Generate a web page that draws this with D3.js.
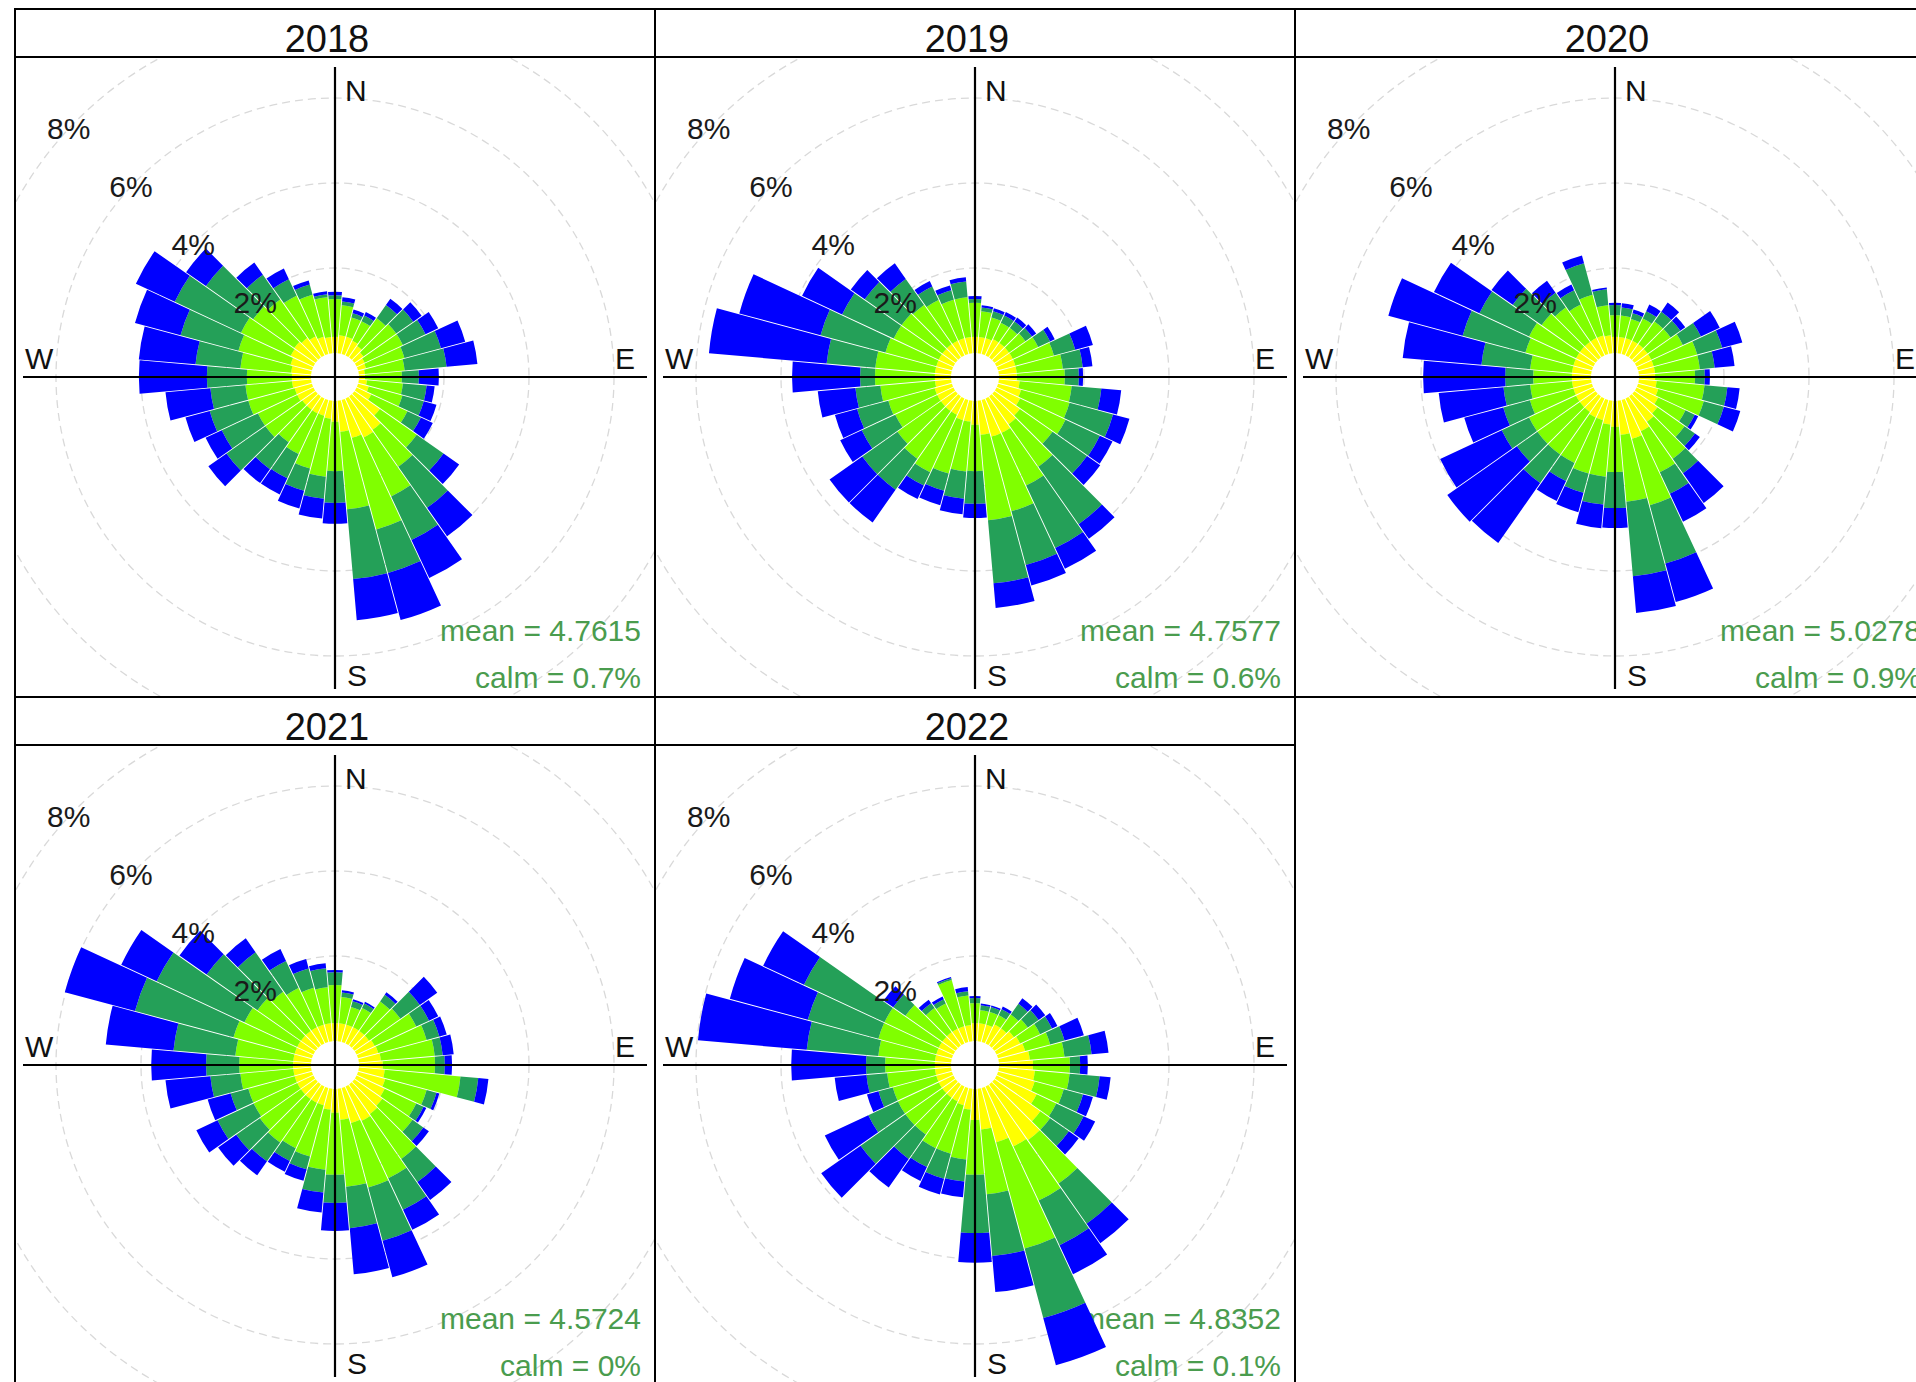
<!DOCTYPE html>
<html>
<head>
<meta charset="utf-8">
<script src="https://cdn.jsdelivr.net/npm/d3@7"></script>
<style>
  html, body { margin: 0; padding: 0; background: #ffffff; }
  svg { display: block; font-family: "Liberation Sans", Arial, sans-serif; }
</style>
</head>
<body>
<svg id="chart" width="1916" height="1382"></svg>
<script>
// ---- data -------------------------------------------------------------
// wind direction sectors (degrees, centre of each 10-degree sector)
const directions = [0, 10, 20, 30, 40, 50, 60, 70, 80, 90,
                    100, 110, 120, 130, 140, 150, 160, 170, 180, 190,
                    200, 210, 220, 230, 240, 250, 260, 270, 280, 290,
                    300, 310, 320, 330, 340, 350];

const years = ["2018", "2019", "2020", "2021", "2022"];
const meanSpeed = ["4.7615", "4.7577", "5.0278", "4.5724", "4.8352"];
const calmPct = ["0.7", "0.6", "0.9", "0", "0.1"];
const ringPct = [2, 4, 6, 8];
const ringLabels = ["2%", "4%", "6%", "8%"];
const speedBands = ["b1", "b2", "b3", "b4"];   // lowest to highest wind speed
const bandColors = ["#ffff00", "#80ff00", "#24a058", "#0000ff"];

// frequency (% of hours) per direction sector, one array per speed band
const f2018_b1 = [0.38,0.42,0.42,0.38,0.33,0.26,0.21,0.19,0.14,0.14, 0.19,0.26,0.38,0.73,0.96,1.01,0.92,0.73,0.49,0.42, 0.38,0.38,0.38,0.38,0.42,0.42,0.45,0.45,0.47,0.52, 0.59,0.61,0.56,0.49,0.42,0.38];
const f2018_b2 = [0.89,0.71,0.47,0.51,0.80,0.94,0.99,0.94,0.94,0.87, 0.85,0.82,0.94,1.06,1.06,1.53,2.23,1.83,1.16,1.37, 1.29,1.06,0.94,1.06,1.02,1.13,1.10,1.06,1.20,1.27, 1.29,1.18,1.11,1.06,1.02,0.94];
const f2018_b3 = [0.09,0.09,0.10,0.15,0.38,0.49,0.59,0.89,0.99,0.40, 0.56,0.52,0.35,0.77,1.18,1.13,1.06,1.65,0.75,0.52, 0.54,0.63,0.77,1.12,0.94,0.94,0.83,0.94,1.06,1.41, 1.72,1.36,0.71,0.43,0.25,0.07];
const f2018_b4 = [0.08,0.10,0.09,0.09,0.18,0.24,0.33,0.59,0.73,0.47, 0.19,0.31,0.31,0.45,0.82,0.99,1.15,0.97,0.49,0.47, 0.43,0.42,0.40,0.52,0.42,0.59,1.06,1.60,1.34,1.11, 1.01,0.57,0.35,0.28,0.10,0.07];

const f2019_b1 = [0.38,0.38,0.38,0.42,0.42,0.42,0.42,0.42,0.42,0.42, 0.49,0.56,0.61,0.73,0.80,0.89,0.89,0.80,0.56,0.49, 0.49,0.42,0.42,0.42,0.42,0.42,0.38,0.38,0.38,0.38, 0.38,0.38,0.38,0.38,0.38,0.38];
const f2019_b2 = [0.80,0.61,0.51,0.43,0.43,0.47,0.66,0.94,1.09,1.13, 1.23,1.18,1.18,0.94,1.22,1.37,1.82,2.02,1.09,1.18, 1.30,1.49,1.37,1.25,1.09,1.13,1.29,1.41,1.41,1.24, 1.17,1.17,1.13,1.06,0.94,0.94];
const f2019_b3 = [0.09,0.09,0.15,0.19,0.19,0.19,0.31,0.52,0.47,0.33, 0.70,1.06,0.89,0.99,1.65,1.62,1.31,1.49,0.77,0.64, 0.42,0.35,0.89,1.01,0.87,0.76,0.59,0.35,1.15,1.58, 1.34,1.06,0.75,0.35,0.23,0.37];
const f2019_b4 = [0.07,0.05,0.07,0.09,0.11,0.12,0.12,0.43,0.23,0.10, 0.47,0.40,0.33,0.38,0.42,0.54,0.50,0.58,0.33,0.37, 0.35,0.35,0.94,0.94,0.56,0.54,0.89,1.60,2.78,1.98, 1.04,0.40,0.45,0.14,0.12,0.10];

const f2020_b1 = [0.38,0.38,0.38,0.38,0.38,0.38,0.38,0.38,0.38,0.38, 0.42,0.49,0.56,0.66,0.73,0.85,0.94,0.80,0.61,0.56, 0.49,0.49,0.45,0.45,0.45,0.45,0.45,0.45,0.45,0.45, 0.45,0.45,0.45,0.45,0.45,0.42];
const f2020_b2 = [0.51,0.51,0.47,0.58,0.66,0.66,0.82,1.06,1.06,0.94, 1.13,1.11,0.71,0.78,1.06,1.06,1.62,1.58,1.06,1.23, 1.30,1.18,1.22,1.22,1.22,1.06,0.99,0.91,0.99,1.17, 1.22,1.10,0.99,0.87,0.99,0.71];
const f2020_b3 = [0.24,0.19,0.14,0.19,0.28,0.28,0.47,0.61,0.35,0.23, 0.54,0.49,0.24,0.30,0.42,0.56,1.42,1.76,0.85,0.66, 0.47,0.47,0.82,0.59,0.71,0.65,0.63,0.66,1.15,1.53, 1.29,0.83,0.42,0.37,0.77,0.38];
const f2020_b4 = [0.05,0.10,0.09,0.17,0.26,0.14,0.49,0.49,0.47,0.12, 0.29,0.40,0.09,0.14,0.85,0.73,0.94,0.87,0.47,0.56, 0.47,0.52,1.72,2.00,1.60,0.95,1.53,1.93,1.86,1.81, 1.18,0.61,0.35,0.15,0.19,0.04];

const f2021_b1 = [0.42,0.42,0.42,0.42,0.42,0.42,0.47,0.49,0.52,0.56, 0.61,0.66,0.73,0.80,0.85,0.89,0.85,0.73,0.56,0.49, 0.42,0.42,0.42,0.42,0.42,0.42,0.42,0.42,0.42,0.42, 0.42,0.42,0.42,0.42,0.42,0.42];
const f2021_b2 = [0.90,0.62,0.43,0.50,0.85,0.90,1.08,1.18,1.27,1.23, 1.79,1.01,0.82,0.87,1.29,1.49,1.57,1.58,1.46,1.42, 1.25,1.18,1.25,1.18,1.13,1.13,1.25,1.27,1.37,1.49, 1.37,1.25,1.13,1.02,0.90,0.85];
const f2021_b3 = [0.30,0.11,0.14,0.12,0.19,0.56,0.33,0.31,0.19,0.23, 0.42,0.24,0.19,0.31,0.66,0.82,1.30,0.98,0.66,0.54, 0.31,0.33,0.54,0.68,0.94,0.43,0.71,0.78,1.46,2.40, 2.28,1.46,1.13,0.70,0.47,0.45];
const f2021_b4 = [0.05,0.05,0.05,0.04,0.07,0.50,0.24,0.18,0.26,0.17, 0.24,0.07,0.07,0.16,0.52,0.52,0.89,1.09,0.66,0.47, 0.28,0.28,0.40,0.52,0.55,0.56,1.06,1.29,1.60,1.71, 0.92,0.78,0.40,0.31,0.23,0.12];

const f2022_b1 = [0.42,0.42,0.42,0.49,0.49,0.56,0.61,0.66,0.73,0.80, 0.85,0.89,1.04,1.32,1.60,1.55,1.32,0.96,0.73,0.49, 0.42,0.38,0.38,0.38,0.38,0.38,0.38,0.38,0.38,0.38, 0.38,0.38,0.38,0.38,0.38,0.38];
const f2022_b2 = [0.47,0.31,0.31,0.24,0.40,0.40,0.52,0.61,0.82,0.87, 0.82,0.71,0.51,0.28,1.25,1.41,2.59,1.53,1.29,1.18, 1.18,1.22,1.06,1.06,1.06,1.06,1.13,1.17,1.34,1.41, 1.41,1.06,0.70,0.66,1.13,0.70];
const f2022_b3 = [0.12,0.12,0.12,0.16,0.31,0.31,0.31,0.35,0.64,0.24, 0.71,0.47,0.71,0.54,1.15,1.16,1.69,1.46,1.37,0.52, 0.61,0.49,0.70,1.29,0.77,0.35,0.49,0.45,1.69,1.72, 2.09,0.35,0.14,0.11,0.04,0.10];
const f2022_b4 = [0.05,0.04,0.04,0.07,0.16,0.19,0.14,0.47,0.40,0.18, 0.26,0.24,0.30,0.28,0.56,0.75,1.15,0.85,0.70,0.37, 0.38,0.36,0.82,1.13,1.13,0.28,0.75,1.76,2.57,1.90, 1.06,0.28,0.10,0.07,0.03,0.10];

const bandsByYear = {
  "2018": [f2018_b1, f2018_b2, f2018_b3, f2018_b4],
  "2019": [f2019_b1, f2019_b2, f2019_b3, f2019_b4],
  "2020": [f2020_b1, f2020_b2, f2020_b3, f2020_b4],
  "2021": [f2021_b1, f2021_b2, f2021_b3, f2021_b4],
  "2022": [f2022_b1, f2022_b2, f2022_b3, f2022_b4]
};

// ---- layout -----------------------------------------------------------
const colX = [15, 655, 1295];
const rowY = [9, 697];
const stripH = 48, panelW = 640, panelH = 640;
const axisHalf = 312;
const sector = 10;

const svg = d3.select("#chart");
const defs = svg.append("defs");

// radial scale: percentage frequency -> pixel radius (with a calm hole in the middle)
const rScale = d3.scaleLinear().domain([0, 8]).range([24, 364]);
const toRad = deg => deg * Math.PI / 180;

const wedge = d3.arc()
  .innerRadius(d => rScale(d[0]))
  .outerRadius(d => rScale(d[1]))
  .startAngle(d => toRad(d.data.dir - sector / 2))
  .endAngle(d => toRad(d.data.dir + sector / 2))
  .padAngle(0.009)
  .padRadius(100);

const stack = d3.stack().keys(speedBands);

years.forEach((yr, i) => {
  const col = i % 3, row = Math.floor(i / 3);
  const x0 = colX[col], y0 = rowY[row];
  const top = y0 + stripH;
  const cx = x0 + panelW / 2, cy = top + panelH / 2;

  const clipId = "panel-clip-" + yr;
  defs.append("clipPath").attr("id", clipId)
    .append("rect").attr("x", x0).attr("y", top).attr("width", panelW).attr("height", panelH);

  const panel = svg.append("g").attr("clip-path", `url(#${clipId})`);
  const g = panel.append("g").attr("transform", `translate(${cx},${cy})`);

  // grid rings
  g.selectAll("circle.ring").data(ringPct).join("circle")
    .attr("class", "ring")
    .attr("r", d => rScale(d))
    .attr("fill", "none")
    .attr("stroke", "#d9d9d9")
    .attr("stroke-width", 1.3)
    .attr("stroke-dasharray", "8 5");

  // summary statistics
  g.append("text")
    .attr("x", 306).attr("y", 264)
    .attr("text-anchor", "end")
    .attr("font-size", 30)
    .attr("fill", "#4a9c4e")
    .text("mean = " + meanSpeed[i]);
  g.append("text")
    .attr("x", 306).attr("y", 311)
    .attr("text-anchor", "end")
    .attr("font-size", 30)
    .attr("fill", "#4a9c4e")
    .text("calm = " + calmPct[i] + "%");

  // stacked wedges
  const tableRows = directions.map((dir, j) => {
    const o = { dir: dir };
    speedBands.forEach((k, b) => { o[k] = bandsByYear[yr][b][j]; });
    return o;
  });
  const series = stack(tableRows);
  series.forEach((s, k) => {
    g.append("g")
      .selectAll("path")
      .data(s.filter(d => d[1] > d[0]))
      .join("path")
      .attr("d", wedge)
      .attr("fill", bandColors[k]);
  });

  // compass axes
  g.append("line").attr("x1", -axisHalf).attr("x2", axisHalf).attr("y1", 0).attr("y2", 0)
    .attr("stroke", "#000").attr("stroke-width", 2.2);
  g.append("line").attr("x1", 0).attr("x2", 0).attr("y1", -axisHalf + 2).attr("y2", axisHalf)
    .attr("stroke", "#000").attr("stroke-width", 2.2);

  // ring labels along the north-west diagonal
  const labelBearing = toRad(313);
  g.selectAll("text.ringlab").data(ringPct).join("text")
    .attr("class", "ringlab")
    .attr("x", d => Math.sin(labelBearing) * rScale(d))
    .attr("y", d => -Math.cos(labelBearing) * rScale(d) + 10)
    .attr("text-anchor", "middle")
    .attr("font-size", 30)
    .attr("fill", "#1a1a1a")
    .text((d, j) => ringLabels[j]);

  // compass letters
  const compass = [
    { t: "N", x: 10, y: -276, a: "start" },
    { t: "S", x: 12, y: 309, a: "start" },
    { t: "W", x: -310, y: -8, a: "start" },
    { t: "E", x: 300, y: -8, a: "end" }
  ];
  g.selectAll("text.compass").data(compass).join("text")
    .attr("class", "compass")
    .attr("x", d => d.x).attr("y", d => d.y)
    .attr("text-anchor", d => d.a)
    .attr("font-size", 30)
    .attr("fill", "#111")
    .text(d => d.t);

  // panel frame and strip
  svg.append("rect")
    .attr("x", x0).attr("y", y0).attr("width", panelW).attr("height", stripH)
    .attr("fill", "none").attr("stroke", "#000").attr("stroke-width", 2);
  svg.append("rect")
    .attr("x", x0).attr("y", top).attr("width", panelW).attr("height", panelH)
    .attr("fill", "none").attr("stroke", "#000").attr("stroke-width", 2);
  svg.append("text")
    .attr("x", cx - 8).attr("y", y0 + 43)
    .attr("text-anchor", "middle")
    .attr("font-size", 38)
    .attr("fill", "#111")
    .text(yr);
});
</script>
</body>
</html>
